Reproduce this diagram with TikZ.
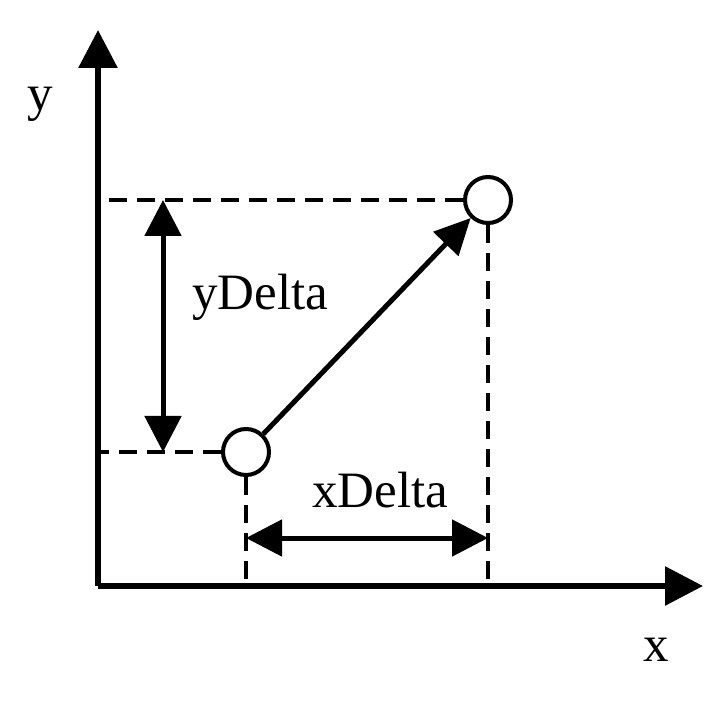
\documentclass[tikz,border=0pt]{standalone}
\usepackage{fontspec}
\setmainfont{Liberation Serif}
\usetikzlibrary{arrows.meta}
\tikzset{
  pt/.style={circle,draw,line width=2pt,fill=white,minimum size=23pt,inner sep=0pt},
  axis/.style={line width=3pt,-{Triangle[length=19pt,width=19pt]}},
  guide/.style={line width=2pt,dash pattern=on 9pt off 5pt},
  span/.style={line width=2.5pt,{Triangle[length=18pt,width=18pt]}-{Triangle[length=18pt,width=18pt]}},
  lbl/.style={font=\fontsize{25.5}{30}\selectfont}
}
\begin{document}
\begin{tikzpicture}[x=0.5pt,y=-0.5pt]
  \useasboundingbox (0,0) rectangle (726,704);
  % Axes
  \coordinate (o) at (98,586);
  \coordinate (xend) at (703,586);
  \coordinate (yend) at (98,30);
  \draw[axis] (o) -- (yend);
  \draw[axis] (o) -- (xend);
  \node[lbl] (ylab) at (40,104) {y};
  \node[lbl] (xlab) at (656,650) {x};
  % Points
  \node[pt] (p1) at (246,452) {};
  \node[pt] (p2) at (488,200) {};
  % Dashed guides
  \draw[guide] (p1.west) -- (p1.west -| o);
  \draw[guide] (p2.west) -- (p2.west -| o);
  \draw[guide] (p1.south) -- (p1.south |- o);
  \draw[guide] (p2.south) -- (p2.south |- o);
  % Step between the points
  \draw[line width=2.5pt,-{Triangle[length=18pt,width=17pt]}] (p1) -- (p2);
  % yDelta
  \coordinate (ya) at (163,200);
  \coordinate (yb) at (163,452);
  \draw[span] (ya) -- (yb);
  \node[lbl] (ydl) at (260,297) {yDelta};
  % xDelta
  \coordinate (xa) at (p1 |- 0,538);
  \coordinate (xb) at (p2 |- 0,538);
  \draw[span] (xa) -- (xb);
  \node[lbl] (xdl) at (380,490) {xDelta};
\end{tikzpicture}
\end{document}
